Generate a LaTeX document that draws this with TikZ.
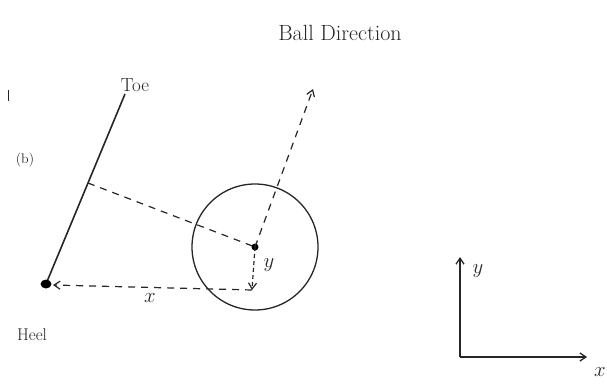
\documentclass[tikz,border=0pt]{standalone}
\usetikzlibrary{arrows.meta}
\begin{document}
\begin{tikzpicture}[x=1pt,y=-1pt,
  ink/.style={draw=black!85, line width=1.3pt},
  dline/.style={draw=black!85, line width=1.2pt, dash pattern=on 7pt off 6pt},
  barb/.style={-{Straight Barb[length=6pt,width=8pt]}},
  lbl/.style={inner sep=0pt, text=black!85}]
\useasboundingbox (0,0) rectangle (607,387);
% ball
\coordinate (C) at (255,247);
\node[ink, circle, minimum size=126pt, inner sep=0pt] (ball) at (C) {};
\fill[black] (C) circle (3.5pt);
% club face
\coordinate (heel) at (46,284);
\coordinate (toe) at (125,94);
\coordinate (foot) at (88,183);
\draw[ink, line width=1.6pt] (heel) -- (toe);
\fill[black] (heel) ellipse (5.5pt and 4.5pt);
% perpendicular to ball
\draw[dline] (foot) -- (C);
% ball direction
\coordinate (dir) at (313,89);
\draw[dline, barb] (C) -- (dir);
% y offset
\coordinate (ytip) at (252,290);
\draw[dline, dash pattern=on 4pt off 3pt, barb] (C) -- (ytip);
% x offset
\coordinate (xend) at (53,285);
\draw[dline, barb] (ytip) -- (xend);
% labels
\node[lbl, font=\fontsize{20}{22}\selectfont] (ylab) at (269,265) {$y$};
\node[lbl, font=\fontsize{22}{24}\selectfont] (xlab) at (150,298) {$x$};
\node[lbl, font=\fontsize{19}{21}\selectfont] (toelab) at (135,85) {Toe};
\node[lbl, font=\fontsize{17}{19}\selectfont] (heellab) at (32,335) {Heel};
\node[lbl, font=\fontsize{14}{16}\selectfont] (blab) at (25,160) {(b)};
\node[lbl, font=\fontsize{22}{24}\selectfont] (balldir) at (340,33) {Ball Direction};
\draw[black!85, line width=1pt] (8,90) -- (8,101);
% axes
\coordinate (O) at (460,357);
\coordinate (Ay) at (460,257);
\coordinate (Ax) at (587,357);
\draw[ink, barb] (O) -- (Ay);
\draw[ink, barb] (O) -- (Ax);
\node[lbl, font=\fontsize{22}{24}\selectfont] (axy) at (478,271) {$y$};
\node[lbl, font=\fontsize{22}{24}\selectfont] (axx) at (600,372) {$x$};
\end{tikzpicture}
\end{document}
